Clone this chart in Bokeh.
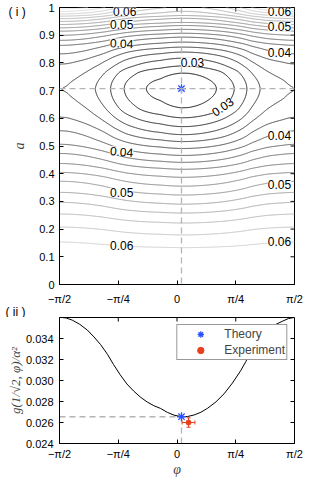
import numpy as np
from bokeh.plotting import figure
from bokeh.layouts import column
from bokeh.models import (FixedTicker, Span, Label, Title, ColumnDataSource,
                          Whisker, TeeHead, Legend, LegendItem)
from bokeh.embed import file_html
from bokeh.resources import INLINE

# ---------------- data ----------------
phi_ticks = [-np.pi / 2, -np.pi / 4, 0.0, np.pi / 4, np.pi / 2]
phi_tick_labels = ["−π/2", "−π/4", "0", "π/4", "π/2"]
a_ticks = [0.0, 0.1, 0.2, 0.3, 0.4, 0.5, 0.6, 0.7, 0.8, 0.9, 1.0]
a_tick_labels = ["0", "0.1", "0.2", "0.3", "0.4", "0.5", "0.6", "0.7", "0.8", "0.9", "1"]
g_ticks = [0.024, 0.026, 0.028, 0.030, 0.032, 0.034]
g_tick_labels = ["0.024", "0.026", "0.028", "0.030", "0.032", "0.034"]

contour_levels = [0.028, 0.030, 0.032, 0.034, 0.036, 0.038, 0.040, 0.042, 0.044,
                  0.046, 0.048, 0.050, 0.052, 0.054, 0.056, 0.058, 0.060, 0.062, 0.064]

# level crossings along the vertical line phi = phi_theory (upper / lower branch)
center_levels_up = [0.028, 0.030, 0.032, 0.034, 0.036, 0.038, 0.040, 0.042, 0.044,
                    0.046, 0.048, 0.050, 0.052, 0.054, 0.0555]
center_a_up = [0.763, 0.789, 0.817, 0.839, 0.857, 0.875, 0.893, 0.907, 0.921,
               0.935, 0.946, 0.961, 0.971, 0.986, 1.0]
center_levels_down = [0.028, 0.030, 0.032, 0.034, 0.036, 0.038, 0.040, 0.042, 0.044,
                      0.046, 0.048, 0.050, 0.052, 0.054, 0.056, 0.058, 0.060, 0.0613]
center_a_down = [0.638, 0.602, 0.570, 0.541, 0.516, 0.491, 0.466, 0.441, 0.416,
                 0.387, 0.355, 0.323, 0.290, 0.258, 0.222, 0.179, 0.133, 0.0]
# level crossings along the edges phi = +-pi/2
edge_levels_up = [0.036, 0.038, 0.040, 0.042, 0.044, 0.046, 0.048, 0.050, 0.052,
                  0.054, 0.056, 0.058, 0.060, 0.062, 0.064, 0.0652]
edge_a_up = [0.722, 0.798, 0.834, 0.864, 0.882, 0.900, 0.915, 0.927, 0.939,
             0.950, 0.960, 0.969, 0.977, 0.986, 0.995, 1.0]
edge_levels_down = [0.036, 0.038, 0.040, 0.042, 0.044, 0.046, 0.048, 0.050, 0.052,
                    0.054, 0.056, 0.058, 0.060, 0.0616]
edge_a_down = [0.688, 0.601, 0.553, 0.505, 0.472, 0.436, 0.404, 0.372, 0.332,
               0.296, 0.254, 0.207, 0.153, 0.0]
edge_min_a = 0.705
edge_min_g = 0.0359

# g(1/sqrt2, phi)/alpha^2 curve
phi_curve = [-1.571, -1.48, -1.40, -1.30, -1.20, -1.11, -1.02, -0.93, -0.85, -0.76,
             -0.67, -0.58, -0.49, -0.40, -0.31, -0.22, -0.13, -0.04, 0.06, 0.14,
             0.23, 0.32, 0.41, 0.52, 0.63, 0.74, 0.85, 0.92, 0.99, 1.10, 1.21, 1.31,
             1.41, 1.49, 1.571]
g_curve = [0.03603, 0.03595, 0.03575, 0.03535, 0.03481, 0.03415, 0.03341, 0.03250,
           0.03154, 0.03055, 0.02967, 0.02900, 0.02842, 0.02796, 0.02760, 0.02734,
           0.02697, 0.02670, 0.02655, 0.02657, 0.02672, 0.02698, 0.02736, 0.02796,
           0.02874, 0.02975, 0.03092, 0.03180, 0.03279, 0.03390, 0.03481, 0.03530,
           0.03565, 0.03590, 0.03601]

# theory / experiment points
phi_theory = 0.060
a_theory = 0.7071
g_theory = 0.02655
phi_exp = 0.154
g_exp = 0.02600
phi_exp_err = 0.085
g_exp_err = 0.00045

contour_label_texts = ["0.06", "0.05", "0.04", "0.06", "0.05", "0.04", "0.03", "0.03",
                       "0.04", "0.04", "0.05", "0.05", "0.06", "0.06"]


# ---------------- build the field from the read crossings ----------------
def pchip(xk, yk, x):
    xk = np.asarray(xk, float)
    yk = np.asarray(yk, float)
    h = np.diff(xk)
    d = np.diff(yk) / h
    m = np.zeros_like(yk)
    for i in range(1, len(xk) - 1):
        if d[i - 1] * d[i] > 0:
            w1 = 2 * h[i] + h[i - 1]
            w2 = h[i] + 2 * h[i - 1]
            m[i] = (w1 + w2) / (w1 / d[i - 1] + w2 / d[i])
    m[0] = d[0]
    m[-1] = d[-1]
    x = np.asarray(x, float)
    idx = np.clip(np.searchsorted(xk, x) - 1, 0, len(xk) - 2)
    t = (x - xk[idx]) / h[idx]
    h00 = 2 * t**3 - 3 * t**2 + 1
    h10 = t**3 - 2 * t**2 + t
    h01 = -2 * t**3 + 3 * t**2
    h11 = t**3 - t**2
    return (h00 * yk[idx] + h10 * h[idx] * m[idx] + h01 * yk[idx + 1]
            + h11 * h[idx] * m[idx + 1])


prof_c_a = center_a_down[::-1] + [a_theory] + center_a_up
prof_c_g = center_levels_down[::-1] + [g_theory] + center_levels_up
prof_e_a = edge_a_down[::-1] + [edge_min_a] + edge_a_up
prof_e_g = edge_levels_down[::-1] + [edge_min_g] + edge_levels_up

phi_grid = np.linspace(-np.pi / 2, np.pi / 2, 361)
a_grid = np.linspace(0.0, 1.0, 501)
gc = pchip(prof_c_a, prof_c_g, a_grid)
ge = pchip(prof_e_a, prof_e_g, a_grid)
ge0 = float(pchip(prof_e_a, prof_e_g, [a_theory])[0])
w = (pchip(phi_curve, g_curve, phi_grid) - g_theory) / (ge0 - g_theory)
Z = gc[:, None] * (1 - w[None, :]) + ge[:, None] * w[None, :]


def gray(level):
    t = (level - 0.026) / (0.068 - 0.026)
    v = int(max(0, min(255, round(255 * t))))
    return "#%02x%02x%02x" % (v, v, v)


FONT = "Liberation Sans"
DASH_COLOR = "#b4b4b4"


def style(p, xt, xl, yt, yl, y_top, x_right):
    p.grid.visible = False
    p.outline_line_color = "black"
    p.outline_line_width = 1
    xax = p.below[0]
    yax = p.left[0]
    xax.ticker = FixedTicker(ticks=xt)
    xax.major_label_overrides = {t: l for t, l in zip(xt, xl)}
    yax.ticker = FixedTicker(ticks=yt)
    yax.major_label_overrides = {t: l for t, l in zip(yt, yl)}
    for ax in (xax, yax):
        ax.major_tick_in = 4
        ax.major_tick_out = 0
        ax.minor_tick_line_color = None
        ax.axis_line_color = "black"
        ax.major_tick_line_color = "black"
        ax.major_label_text_font = FONT
        ax.major_label_text_font_size = "11px"
        ax.major_label_text_color = "black"
    # ticks on the top and right edges of the box
    p.ray(x=xt, y=[y_top] * len(xt), length=4, length_units="screen",
          angle=-np.pi / 2, line_color="black", line_width=1)
    p.ray(x=[x_right] * len(yt), y=yt, length=4, length_units="screen",
          angle=np.pi, line_color="black", line_width=1)
    return xax, yax


# ---------------- panel (i) ----------------
p1 = figure(width=316, height=317, x_range=(-np.pi / 2, np.pi / 2), y_range=(0, 1),
            output_backend="svg", toolbar_location=None,
            min_border_left=59, min_border_right=22, min_border_top=7, min_border_bottom=31)
x1, y1 = style(p1, phi_ticks, phi_tick_labels, a_ticks, a_tick_labels, 1.0, np.pi / 2)
x1.major_label_standoff = 8
y1.major_label_standoff = 5
y1.axis_label = "a"
y1.axis_label_text_font = "Liberation Serif"
y1.axis_label_text_font_style = "italic"
y1.axis_label_text_font_size = "14px"
y1.axis_label_standoff = 9

p1.contour(x=phi_grid, y=a_grid, z=Z, levels=contour_levels,
           line_color=[gray(l) for l in contour_levels], line_width=1)

p1.add_layout(Span(location=phi_theory, dimension="height", line_color=DASH_COLOR,
                   line_dash="6 4", line_width=1.3))
p1.add_layout(Span(location=a_theory, dimension="width", line_color=DASH_COLOR,
                   line_dash="6 4", line_width=1.3))
p1.scatter([phi_theory], [a_theory], marker="asterisk", size=9, line_color="#2b50ff",
           line_width=1.3)

label_pos = [(-0.70, 0.986, 0), (-0.74, 0.939, 0), (-0.74, 0.871, -0.05),
             (1.37, 0.984, 0), (1.37, 0.930, 0), (1.37, 0.839, 0),
             (0.207, 0.803, 0), (0.608, 0.642, 0.6),
             (-0.74, 0.480, -0.08), (1.37, 0.538, 0),
             (-0.74, 0.333, 0), (1.37, 0.362, 0),
             (-0.74, 0.140, 0), (1.37, 0.154, 0)]
for txt, (lx, ly, ang) in zip(contour_label_texts, label_pos):
    p1.add_layout(Label(x=lx, y=ly, text=txt, angle=ang, text_align="center",
                        text_baseline="middle", text_font=FONT, text_font_size="12px",
                        background_fill_color="white", text_color="black"))

# panel tags as titles in the border panels
p1.add_layout(Title(text="( i )", align="left", offset=-51, standoff=-22,
                    vertical_align="bottom", text_font=FONT, text_font_size="12px",
                    text_font_style="normal", text_color="black"), "above")
p1.add_layout(Title(text="( ii )", align="left", offset=-54, standoff=-6,
                    vertical_align="top", text_font=FONT, text_font_size="12px",
                    text_font_style="normal", text_color="black"), "below")

# ---------------- panel (ii) ----------------
p2 = figure(width=316, height=162, x_range=(-np.pi / 2, np.pi / 2), y_range=(0.024, 0.036),
            output_backend="svg", toolbar_location=None,
            min_border_left=59, min_border_right=22, min_border_top=0, min_border_bottom=35)
x2, y2 = style(p2, phi_ticks, phi_tick_labels, g_ticks, g_tick_labels, 0.036, np.pi / 2)
x2.major_label_standoff = 4
y2.major_label_standoff = 6
x2.axis_label = "φ"
x2.axis_label_text_font = "Liberation Serif"
x2.axis_label_text_font_style = "italic"
x2.axis_label_text_font_size = "14px"
x2.axis_label_standoff = -1
y2.axis_label = "g(1/√2, φ)/α²"
y2.axis_label_text_font = "Liberation Serif"
y2.axis_label_text_font_style = "italic"
y2.axis_label_text_font_size = "13px"
y2.axis_label_standoff = 0

p2.line(phi_curve, g_curve, line_color="black", line_width=1)
p2.segment(x0=[phi_theory], y0=[0.024], x1=[phi_theory], y1=[g_theory],
           line_color=DASH_COLOR, line_dash="6 4", line_width=1.3)
p2.segment(x0=[-np.pi / 2], y0=[g_theory], x1=[phi_theory], y1=[g_theory],
           line_color=DASH_COLOR, line_dash="6 4", line_width=1.3)

src = ColumnDataSource(dict(phi=[phi_exp], g=[g_exp],
                            plo=[phi_exp - phi_exp_err], phi_hi=[phi_exp + phi_exp_err],
                            glo=[g_exp - g_exp_err], ghi=[g_exp + g_exp_err]))
RED = "#e8401c"
p2.add_layout(Whisker(source=src, base="g", lower="plo", upper="phi_hi", dimension="width",
                      line_color=RED, line_width=1,
                      lower_head=TeeHead(size=4, line_color=RED),
                      upper_head=TeeHead(size=4, line_color=RED)))
p2.add_layout(Whisker(source=src, base="phi", lower="glo", upper="ghi", dimension="height",
                      line_color=RED, line_width=1,
                      lower_head=TeeHead(size=4, line_color=RED),
                      upper_head=TeeHead(size=4, line_color=RED)))
r_th = p2.scatter([phi_theory], [g_theory], marker="asterisk", size=9, line_color="#2b50ff",
                  line_width=1.3)
r_ex = p2.scatter("phi", "g", source=src, marker="circle", size=5, fill_color=RED,
                  line_color=RED)

legend = Legend(items=[LegendItem(label="Theory", renderers=[r_th]),
                       LegendItem(label="Experiment", renderers=[r_ex])],
                location="top_right", margin=7, padding=1, spacing=0,
                label_text_font=FONT, label_text_font_size="12px",
                glyph_width=44, glyph_height=16, label_standoff=2, label_height=16,
                border_line_color="#333333", border_line_width=1,
                background_fill_color="white", background_fill_alpha=1)
p2.add_layout(legend)

layout = column(p1, p2, spacing=0)
open("out.html", "w").write(file_html(layout, INLINE))
